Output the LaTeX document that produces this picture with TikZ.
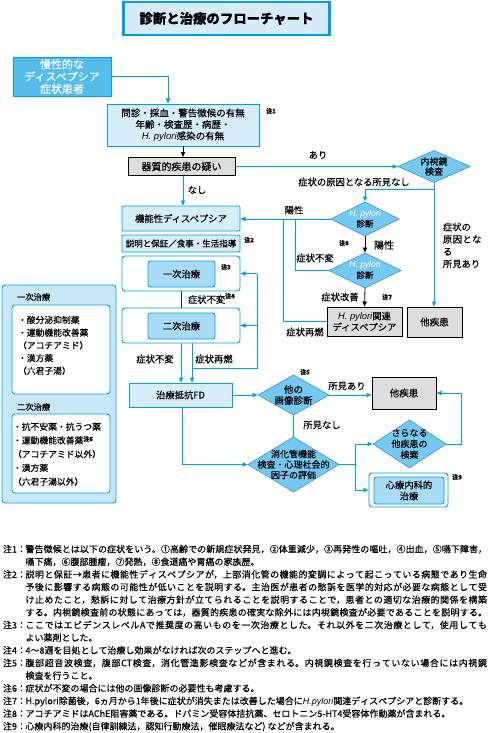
\documentclass[tikz,border=0pt]{standalone}
\usepackage{fontspec}
\setmainfont{Noto Sans CJK JP}[FakeBold=0.4]
\newfontfamily\latsans{Liberation Sans}
\usetikzlibrary{arrows.meta,shapes.geometric}
\XeTeXlinebreaklocale "ja"
\XeTeXlinebreakskip=0pt plus 1pt
\definecolor{cyanc}{RGB}{0,160,233}
\definecolor{titlefill}{RGB}{214,236,250}
\definecolor{boxlight}{RGB}{214,237,250}
\definecolor{boxmid}{RGB}{168,219,245}
\definecolor{startfill}{RGB}{84,189,236}
\definecolor{diafill}{RGB}{117,200,240}
\definecolor{diadraw}{RGB}{40,140,200}
\definecolor{legfill}{RGB}{200,232,248}
\definecolor{grayfill}{RGB}{220,221,221}
\newcommand{\hpy}{{\latsans\itshape H. pylori}}
\newcommand{\cmk}[1]{{\fontsize{6}{6}\selectfont\bfseries 注#1}}
\begin{document}
\begin{tikzpicture}[x=1pt,y=-1pt,
  every node/.style={inner sep=0pt,outer sep=0pt},
  cy/.style={draw=cyanc,line width=0.9pt},
  bk/.style={draw=black,line width=0.8pt},
  ar/.style={-{Latex[length=5.5pt,width=5pt]}},
  lbox/.style={draw=cyanc,fill=boxlight,line width=0.9pt,rounded corners=1pt},
  mbox/.style={draw=cyanc,fill=boxmid,line width=0.9pt,rounded corners=2.5pt},
  wbox/.style={draw=cyanc,fill=white,line width=0.9pt,rounded corners=3pt},
  gbox/.style={draw=black,fill=grayfill,line width=0.7pt},
  dia/.style={diamond,draw=diadraw,fill=diafill,line width=0.5pt},
  lab/.style={font=\fontsize{9.3}{11}\selectfont},
  nm/.style={font=\fontsize{6}{6}\selectfont\bfseries},
  dtext/.style={align=center,font=\fontsize{9}{10.5}\selectfont},
]
\useasboundingbox (0,0) rectangle (489,733);
\fill[white] (0,0) rectangle (489,733);

% title
\node[draw=cyanc,line width=2.4pt,fill=titlefill,minimum width=206pt,minimum height=33pt,
      font=\fontsize{13.4}{15}\selectfont\bfseries] (title) at (226.5,18.5) {診断と治療のフローチャート};

% start
\node[draw=cyanc,fill=startfill,line width=0.9pt,minimum width=98pt,minimum height=39pt,
      align=center,text=white,font=\fontsize{11}{12.3}\selectfont] (S) at (62,76.5) {慢性的な\\ディスペプシア\\症状患者};

% history box
\node[lbox,rounded corners=0pt,minimum width=152pt,minimum height=42pt,align=center,
      font=\fontsize{9.5}{11.5}\selectfont] (B2) at (183,125) {問診・採血・警告徴候の有無\\年齢・検査歴・病歴・\\\hpy 感染の有無};
\node[nm] (n1) at (271,111) {注1};
\draw[cy,ar] (S.east) -| ([xshift=-15pt]B2.north);

% organic disease suspicion
\node[gbox,minimum width=107pt,minimum height=18pt,font=\fontsize{10}{12}\selectfont] (Q) at (181.5,166.5) {器質的疾患の疑い};
\draw[bk,ar] (B2.south) -- (B2.south |- Q.north);

% endoscopy
\node[dia,minimum width=72pt,minimum height=32pt] (E) at (434,166.5) {};
\node[dtext,font=\fontsize{9}{10}\selectfont] (Et) at (E.center) {内視鏡\\検査};
\draw[cy,ar] (Q.east) -- (E.west);
\node[lab] (lAri) at (318,155) {あり};

% functional dyspepsia
\node[lbox,minimum width=118pt,minimum height=25pt,font=\fontsize{9.3}{11}\selectfont] (FD1) at (181,218.5) {機能性ディスペプシア};
\draw[cy,ar] (B2.south |- Q.south) -- (B2.south |- FD1.north);
\node[lab] (lNashi) at (197,190) {なし};

\node[lbox,minimum width=118pt,minimum height=17pt,font=\fontsize{8.5}{10}\selectfont] (EX) at (181,243.5) {説明と保証／食事・生活指導};
\node[nm] (n2) at (249,240) {注2};

% treatments
\node[wbox,minimum width=118pt,minimum height=35pt] (T1o) at (181,273.5) {};
\node[mbox,minimum width=67pt,minimum height=26pt,font=\fontsize{9.3}{11}\selectfont] (T1i) at (181.5,274) {一次治療};
\node[nm] (n3) at (226,267) {注3};
\node[wbox,minimum width=118pt,minimum height=35pt] (T2o) at (181,325.5) {};
\node[mbox,minimum width=67pt,minimum height=26pt,font=\fontsize{9.3}{11}\selectfont] (T2i) at (181.5,326) {二次治療};
\draw[draw=black!85,line width=0.8pt] (T1o.south) -- (T2o.north);
\node[lab,anchor=west] (lFuhen0) at (188,299.5) {症状不変};
\node[nm] (n4) at (230,296) {注4};

% treatment-resistant FD
\node[lbox,rounded corners=0pt,minimum width=103pt,minimum height=24pt,font=\fontsize{9.3}{11}\selectfont] (FD2) at (180.5,395) {治療抵抗FD};
\coordinate (fb) at (257,368);
\draw[cy,ar] (T2o.south) -- (T2o.south |- FD2.north);
\draw[cy,ar] ([xshift=11pt]T2o.south) -- ([xshift=11pt]T2o.south |- FD2.north);
\draw[cy] ([xshift=11pt]T2o.south |- fb) -- (fb) -- (fb |- T1o.east);
\draw[cy,ar] (fb |- T1o.east) -- (T1o.east);
\draw[cy,ar] (fb |- T2o.east) -- (T2o.east);
\node[lab] (lFuhen1) at (155,359) {症状不変};
\node[lab] (lSai1) at (214,359) {症状再燃};

% other imaging
\node[dia,minimum width=71pt,minimum height=40pt] (IMG) at (293.5,395) {};
\node[dtext,font=\fontsize{9.5}{11}\selectfont] (IMGt) at (IMG.center) {他の\\画像診断};
\node[nm] (n5) at (305,372) {注5};
\draw[cy,ar] (FD2.east) -- (IMG.west);
\node[gbox,minimum width=64pt,minimum height=32pt,font=\fontsize{9.5}{11}\selectfont] (OD2) at (404,393) {他疾患};
\draw[cy,ar] (IMG.east) -- (IMG.east -| OD2.west);
\node[lab] (lShoA) at (347,386) {所見あり};

% GI function / psychosocial
\node[dia,minimum width=91pt,minimum height=55pt] (GI) at (293.5,464.5) {};
\node[dtext,font=\fontsize{9}{10.5}\selectfont] (GIt) at (GI.center) {消化管機能\\検査・心理社会的\\因子の評価};
\draw[cy] (IMG.south) -- (GI.north);
\node[lab] (lShoN) at (322,425) {所見なし};
\draw[cy,ar] ([xshift=1.5pt]FD2.south) |- (GI.west);

\node[dia,minimum width=73pt,minimum height=48pt] (FUR) at (409.5,444) {};
\node[dtext,font=\fontsize{9}{11}\selectfont] (FURt) at (FUR.center) {さらなる\\他疾患の\\検索};
\node[wbox,minimum width=79pt,minimum height=34pt] (PSYo) at (408.5,490) {};
\node[mbox,minimum width=70pt,minimum height=27pt,align=center,font=\fontsize{9.3}{11}\selectfont] (PSYi) at (409,490.5) {心療内科的\\治療};
\node[nm] (n9) at (457,477) {注9};
\coordinate (gb) at (355,464.5);
\draw[cy] (GI.east) -- (gb);
\draw[cy,ar] (gb) |- (FUR.west);
\draw[cy,ar] (gb) |- (PSYo.west);
\coordinate (fr) at (461,444);
\draw[cy,ar] (FUR.east) -- (fr) |- (OD2.east);

% H. pylori branch
\node[dia,minimum width=68pt,minimum height=34pt] (HP1) at (365,219) {};
\node[dtext,font=\fontsize{8.5}{10.5}\selectfont] (HP1t) at (HP1.center) {{\color{white}\hpy}\\診断};
\coordinate (eb) at (434,189);
\node[gbox,minimum width=55pt,minimum height=30pt,font=\fontsize{9.5}{11}\selectfont] (OD1) at (434.5,322) {他疾患};
\draw[cy,ar] (E.south) -- (E.south |- OD1.north);
\draw[cy,ar] (eb) -| (HP1.north);
\node[lab] (lNoCause) at (354,182) {症状の原因となる所見なし};
\node[lab,anchor=base west,text width=46pt,align=left,font=\fontsize{9.3}{12.3}\selectfont] (lCause) at (443,230.5) {症状の\\原因となる\\所見あり};

\node[dia,minimum width=72pt,minimum height=35pt] (HP2) at (365,270.5) {};
\node[dtext,font=\fontsize{8.5}{10.5}\selectfont] (HP2t) at (HP2.center) {{\color{white}\hpy}\\診断};
\draw[bk,ar] (HP1.south) -- (HP2.north);
\node[lab,font=\fontsize{10}{11}\selectfont] (lYo2) at (384,245) {陽性};
\node[nm] (n8) at (344,243) {注8};

\node[gbox,minimum width=75pt,minimum height=29pt,align=center,font=\fontsize{9.3}{11}\selectfont] (HPB) at (364.5,321.5) {\hpy 関連\\ディスペプシア};
\draw[bk,ar] (HP2.south) -- (HPB.north);
\node[lab] (lKai) at (340,297) {症状改善};
\node[nm] (n7) at (387,297) {注7};

\draw[cy,ar] (HP1.west) -- (HP1.west -| FD1.east);
\node[lab] (lYo1) at (294,210) {陽性};
\coordinate (j1) at (283,219);
\coordinate (j2) at (295,219);
\draw[cy] (j1) |- (HPB.west);
\draw[cy] (j2) |- (HP2.west);
\node[lab] (lFuhen2) at (315,258) {症状不変};
\node[lab] (lSai2) at (305,332) {症状再燃};

% legend
\node[draw=cyanc,fill=legfill,line width=0.9pt,rounded corners=3pt,minimum width=114pt,minimum height=218pt] (L) at (59,394) {};
\node[anchor=west,font=\fontsize{8.3}{10}\selectfont] (Lh1) at (17,297) {一次治療};
\node[wbox,minimum width=98pt,minimum height=89pt] (L1) at (61,349.5) {};
\node[anchor=base west,text width=95pt,align=left,font=\fontsize{8.8}{12.7}\selectfont] (L1t) at (18,323.3) {・酸分泌抑制薬\\・運動機能改善薬\\（アコチアミド）\\・漢方薬\\（六君子湯）};
\node[anchor=west,font=\fontsize{8.3}{10}\selectfont] (Lh2) at (17,407) {二次治療};
\node[wbox,minimum width=98pt,minimum height=79pt] (L2) at (61,453.5) {};
\node[anchor=base west,text width=96pt,align=left,font=\fontsize{8.8}{13.75}\selectfont] (L2t) at (13,430) {・抗不安薬・抗うつ薬\\・運動機能改善薬\raisebox{2.5pt}{\cmk{6}}\\（アコチアミド以外）\\・漢方薬\\（六君子湯以外）};

% notes
\node[anchor=base west,text width=484pt,align=justify,font=\fontsize{9}{12.65}\selectfont] (notes) at (3,552.5) {%
\parskip=0pt
\hangindent=22.5pt\hangafter=1\makebox[22.5pt][l]{注1：}警告徴候とは以下の症状をいう。①高齢での新規症状発見，②体重減少，③再発性の嘔吐，④出血，⑤嚥下障害，\linebreak 嚥下痛，⑥腹部腫瘤，⑦発熱，⑧食道癌や胃癌の家族歴。\par
\hangindent=22.5pt\hangafter=1\makebox[22.5pt][l]{注2：}説明と保証→患者に機能性ディスペプシアが，上部消化管の機能的変調によって起こっている病態であり生命\linebreak 予後に影響する病態の可能性が低いことを説明する。主治医が患者の愁訴を医学的対応が必要な病態として受\linebreak け止めたこと，愁訴に対して治療方針が立てられることを説明することで，患者との適切な治療的関係を構築\linebreak する。内視鏡検査前の状態にあっては，器質的疾患の確実な除外には内視鏡検査が必要であることを説明する。\parfillskip=0pt\par
\parfillskip=0pt plus 1fil
\hangindent=22.5pt\hangafter=1\makebox[22.5pt][l]{注3：}ここではエビデンスレベルAで推奨度の高いものを一次治療とした。それ以外を二次治療として，使用しても\linebreak よい薬剤とした。\par
\hangindent=22.5pt\hangafter=1\makebox[22.5pt][l]{注4：}4～8週を目処として治療し効果がなければ次のステップへと進む。\par
\hangindent=22.5pt\hangafter=1\makebox[22.5pt][l]{注5：}腹部超音波検査，腹部CT検査，消化管造影検査などが含まれる。内視鏡検査を行っていない場合には内視鏡\linebreak 検査を行うこと。\par
\hangindent=22.5pt\hangafter=1\makebox[22.5pt][l]{注6：}症状が不変の場合には他の画像診断の必要性も考慮する。\par
\hangindent=22.5pt\hangafter=1\makebox[22.5pt][l]{注7：}H.pylori除菌後，6ヵ月から1年後に症状が消失または改善した場合に{\latsans\itshape H.pylori}関連ディスペプシアと診断する。\par
\hangindent=22.5pt\hangafter=1\makebox[22.5pt][l]{注8：}アコチアミドはAChE阻害薬である。ドパミン受容体拮抗薬、セロトニン5-HT4受容体作動薬が含まれる。\par
\hangindent=22.5pt\hangafter=1\makebox[22.5pt][l]{注9：}心療内科的治療(自律訓練法，認知行動療法，催眠療法など) などが含まれる。\par}; 
\end{tikzpicture}
\end{document}
